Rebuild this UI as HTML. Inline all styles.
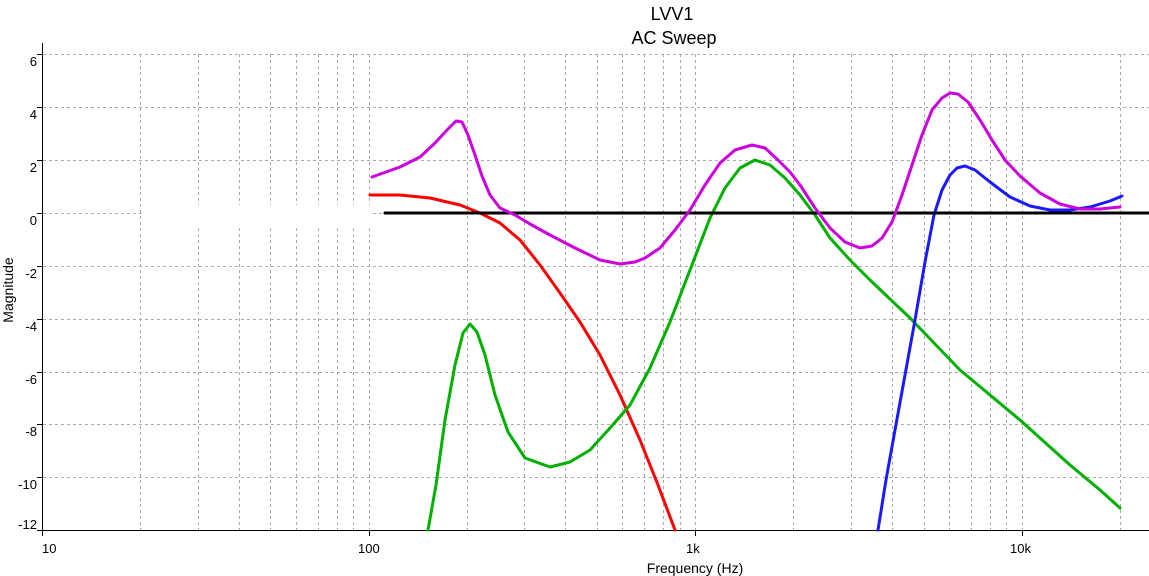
<!DOCTYPE html>
<html><head><meta charset="utf-8"><style>
body{margin:0;background:#fff}
svg{display:block;font-family:"Liberation Sans",sans-serif}
</style></head><body>
<svg width="1149" height="576" viewBox="0 0 1149 576">
<rect width="1149" height="576" fill="#fff"/>
<g stroke="#aaa" stroke-width="1" stroke-dasharray="3,3" fill="none">
<path d="M43 54.5H1149M43 107.5H1149M43 160.5H1149M43 213.5H1149M43 266.5H1149M43 319.5H1149M43 372.5H1149M43 424.5H1149M43 477.5H1149"/>
<path d="M140.5 54V530M198.5 54V530M239.5 54V530M270.5 54V530M296.5 54V530M318.5 54V530M337.5 54V530M353.5 54V530M369.5 54V530
M467.5 54V530M524.5 54V530M565.5 54V530M597.5 54V530M622.5 54V530M644.5 54V530M663.5 54V530M680.5 54V530M695.5 54V530
M793.5 54V530M851.5 54V530M892.5 54V530M924.5 54V530M949.5 54V530M971.5 54V530M990.5 54V530M1006.5 54V530M1022.5 54V530M1120.5 54V530"/>
</g>
<rect x="142" y="205" width="228" height="20" fill="#fff"/>
<g stroke="#000" stroke-width="1">
<path d="M42.5 43V531M37 54.5H43M37 107.5H43M37 160.5H43M37 213.5H43M37 266.5H43M37 319.5H43M37 372.5H43M37 424.5H43M37 477.5H43M37 530.5H43"/>
<path d="M42 530.5H1149M42.5 530V536M369.5 530V536M695.5 530V536M1022.5 530V536"/>
</g>
<g font-size="13" fill="#000" text-anchor="end">
<text x="37" y="66">6</text><text x="37" y="119">4</text><text x="37" y="172">2</text><text x="37" y="225">0</text>
<text x="37" y="278">-2</text><text x="37" y="331">-4</text><text x="37" y="384">-6</text><text x="37" y="436">-8</text>
<text x="37" y="489">-10</text><text x="37" y="529">-12</text>
</g>
<g font-size="13" fill="#000">
<text x="42" y="553">10</text><text x="358" y="553">100</text><text x="686" y="553">1k</text><text x="1010" y="553">10k</text>
</g>
<text x="695" y="573" font-size="14" text-anchor="middle">Frequency (Hz)</text>
<text x="0" y="0" font-size="14" text-anchor="middle" transform="translate(13,290) rotate(-90)">Magnitude</text>
<text x="672" y="20" font-size="18" text-anchor="middle">LVV1</text>
<text x="674" y="44" font-size="18" text-anchor="middle">AC Sweep</text>
<g fill="none" stroke-width="3" stroke-linejoin="round" stroke-linecap="round">
<polyline stroke="#ff0000" points="370,195 400,195 430,198 460,205 480,213 500,223 520,240 540,265 560,293 580,322 600,355 620,395 640,440 658,485 675,530"/>
<polyline stroke="#00b000" points="428,530 436,485 445,420 455,365 463,333 470,324 477,332 485,355 495,395 508,432 525,458 550,467 570,462 590,450 610,428 630,405 650,368 670,322 690,270 710,218 725,188 740,168 755,160 770,165 785,178 800,195 815,215 830,238 850,260 870,280 910,318 960,370 1020,420 1070,465 1100,490 1120,508"/>
<polyline stroke="#1a1aff" points="878,530 886,480 895,430 905,375 915,320 925,262 934,215 942,190 950,175 957,168 965,166 975,170 990,182 1010,197 1030,206 1050,210 1070,210 1090,207 1110,201 1122,196"/>
<polyline stroke="#000" points="385,213 1149,213"/>
<polyline stroke="#cc00dd" points="372,177 400,167 420,157 435,143 447,130 456,121 462,122 468,135 475,155 482,176 490,195 500,208 515,215 530,224 550,235 575,248 600,260 620,264 635,262 645,258 660,248 675,230 690,210 705,185 720,163 735,150 752,145 765,148 778,160 790,172 800,185 815,208 830,228 845,242 860,248 872,246 882,238 892,222 902,195 912,165 922,135 932,110 942,98 950,93 958,94 968,102 980,120 992,140 1005,160 1020,176 1040,193 1060,204 1080,209 1100,209 1120,207"/>
</g>
</svg>
</body></html>
